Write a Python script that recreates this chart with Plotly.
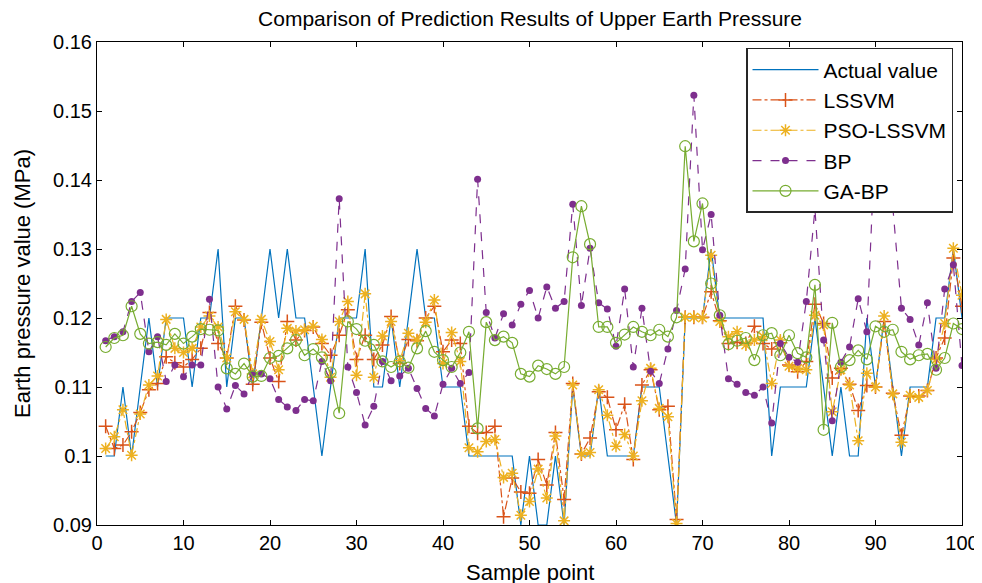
import plotly.graph_objects as go

samples = list(range(1, 101))

actual = [0.10, 0.10, 0.11, 0.10, 0.11, 0.12, 0.11, 0.12, 0.12, 0.12,
          0.11, 0.12, 0.12, 0.13, 0.11, 0.12, 0.12, 0.11, 0.12, 0.13,
          0.12, 0.13, 0.12, 0.12, 0.11, 0.10, 0.11, 0.12, 0.12, 0.12,
          0.13, 0.11, 0.11, 0.12, 0.11, 0.12, 0.13, 0.12, 0.12, 0.11,
          0.11, 0.11, 0.10, 0.10, 0.10, 0.10, 0.10, 0.10, 0.09, 0.10,
          0.09, 0.09, 0.10, 0.09, 0.11, 0.10, 0.10, 0.11, 0.10, 0.10,
          0.10, 0.10, 0.11, 0.11, 0.11, 0.10, 0.09, 0.12, 0.12, 0.12,
          0.13, 0.12, 0.12, 0.12, 0.12, 0.12, 0.12, 0.10, 0.11, 0.11,
          0.11, 0.11, 0.12, 0.11, 0.10, 0.11, 0.10, 0.10, 0.12, 0.11,
          0.12, 0.11, 0.10, 0.11, 0.11, 0.11, 0.12, 0.12, 0.13, 0.12]

lssvm = [0.1043, 0.1011, 0.1016, 0.1035, 0.1063, 0.1096, 0.1105, 0.1144, 0.1135, 0.1129,
         0.1140, 0.1156, 0.1208, 0.1163, 0.1142, 0.1217, 0.1197, 0.1104, 0.1194, 0.1142,
         0.1108, 0.1195, 0.1168, 0.1182, 0.1187, 0.1163, 0.1146, 0.1175, 0.1212, 0.1140,
         0.1175, 0.1140, 0.1161, 0.1202, 0.1134, 0.1169, 0.1167, 0.1200, 0.1217, 0.1151,
         0.1168, 0.1163, 0.1043, 0.1033, 0.1034, 0.1043, 0.0912, 0.0968, 0.0948, 0.0946,
         0.0995, 0.0958, 0.1034, 0.0937, 0.1105, 0.1003, 0.1026, 0.1093, 0.1085, 0.1038,
         0.1075, 0.0995, 0.1103, 0.1125, 0.1067, 0.1072, 0.0908, 0.1201, 0.1201, 0.1201,
         0.1238, 0.1196, 0.1163, 0.1165, 0.1163, 0.1188, 0.1163, 0.1155, 0.1164, 0.1132,
         0.1122, 0.1137, 0.1220, 0.1192, 0.1113, 0.1127, 0.1104, 0.1066, 0.1102, 0.1100,
         0.1195, 0.1091, 0.1030, 0.1087, 0.1087, 0.1095, 0.1142, 0.1171, 0.1287, 0.1217]

pso_lssvm = [0.1011, 0.1028, 0.1067, 0.1001, 0.1061, 0.1103, 0.1116, 0.1198, 0.1156, 0.1150,
             0.1156, 0.1187, 0.1203, 0.1187, 0.1142, 0.1209, 0.1198, 0.1119, 0.1198, 0.1166,
             0.1125, 0.1185, 0.1181, 0.1183, 0.1188, 0.1169, 0.1114, 0.1195, 0.1224, 0.1117,
             0.1235, 0.1114, 0.1174, 0.1195, 0.1138, 0.1178, 0.1168, 0.1194, 0.1226, 0.1134,
             0.1179, 0.1137, 0.1012, 0.1006, 0.1021, 0.1024, 0.0969, 0.0975, 0.0914, 0.0934,
             0.0981, 0.0939, 0.1029, 0.0906, 0.1103, 0.1003, 0.1005, 0.1096, 0.1059, 0.1014,
             0.1031, 0.1000, 0.1080, 0.1127, 0.1069, 0.1057, 0.0902, 0.1201, 0.1201, 0.1200,
             0.1291, 0.1195, 0.1173, 0.1180, 0.1161, 0.1168, 0.1173, 0.1105, 0.1168, 0.1130,
             0.1127, 0.1125, 0.1204, 0.1190, 0.1064, 0.1125, 0.1103, 0.1022, 0.1120, 0.1100,
             0.1203, 0.1090, 0.1020, 0.1088, 0.1085, 0.1095, 0.1140, 0.1192, 0.1301, 0.1233]

bp = [0.1167, 0.1173, 0.1180, 0.1224, 0.1237, 0.1151, 0.1173, 0.1108, 0.1132, 0.1115,
      0.1132, 0.1132, 0.1227, 0.1100, 0.1068, 0.1102, 0.1090, 0.1119, 0.1119, 0.1112,
      0.1082, 0.1071, 0.1066, 0.1082, 0.1080, 0.1137, 0.1109, 0.1373, 0.1129, 0.1092,
      0.1045, 0.1072, 0.1137, 0.1109, 0.1116, 0.1127, 0.1098, 0.1069, 0.1058, 0.1104,
      0.1127, 0.1105, 0.1121, 0.1401, 0.1208, 0.1171, 0.1206, 0.1190, 0.1220, 0.1240,
      0.1200, 0.1245, 0.1214, 0.1224, 0.1365, 0.1218, 0.1301, 0.1222, 0.1213, 0.1159,
      0.1242, 0.1129, 0.1214, 0.1123, 0.1105, 0.1155, 0.1211, 0.1271, 0.1523, 0.1299,
      0.1350, 0.1204, 0.1112, 0.1104, 0.1092, 0.1088, 0.1100, 0.1048, 0.1163, 0.1143,
      0.1136, 0.1224, 0.1358, 0.1168, 0.1051, 0.1136, 0.1158, 0.1228, 0.1180, 0.1470,
      0.1450, 0.1361, 0.1214, 0.1198, 0.1161, 0.1222, 0.1127, 0.1242, 0.1277, 0.1131]

ga_bp = [0.1158, 0.1171, 0.1175, 0.1217, 0.1177, 0.1163, 0.1165, 0.1161, 0.1177, 0.1163,
         0.1173, 0.1184, 0.1183, 0.1182, 0.1127, 0.1119, 0.1134, 0.1115, 0.1116, 0.1142,
         0.1145, 0.1156, 0.1168, 0.1146, 0.1155, 0.1143, 0.1121, 0.1062, 0.1195, 0.1184,
         0.1167, 0.1161, 0.1137, 0.1129, 0.1137, 0.1128, 0.1156, 0.1181, 0.1151, 0.1139,
         0.1129, 0.1150, 0.1180, 0.1040, 0.1194, 0.1168, 0.1173, 0.1164, 0.1119, 0.1115,
         0.1131, 0.1126, 0.1119, 0.1129, 0.1288, 0.1362, 0.1307, 0.1187, 0.1187, 0.1164,
         0.1176, 0.1187, 0.1180, 0.1175, 0.1183, 0.1173, 0.1201, 0.1449, 0.1311, 0.1366,
         0.1250, 0.1204, 0.1162, 0.1167, 0.1171, 0.1139, 0.1175, 0.1178, 0.1146, 0.1175,
         0.1149, 0.1143, 0.1248, 0.1038, 0.1193, 0.1129, 0.1139, 0.1153, 0.1140, 0.1188,
         0.1180, 0.1183, 0.1151, 0.1140, 0.1146, 0.1148, 0.1125, 0.1142, 0.1192, 0.1184]

x_ticks = [0, 10, 20, 30, 40, 50, 60, 70, 80, 90, 100]
y_ticks = [0.09, 0.10, 0.11, 0.12, 0.13, 0.14, 0.15, 0.16]
y_tick_labels = ["0.09", "0.1", "0.11", "0.12", "0.13", "0.14", "0.15", "0.16"]

FONT = "Liberation Sans, Arial, sans-serif"

fig = go.Figure()
fig.add_trace(go.Scatter(x=samples, y=actual, name="Actual value", mode="lines",
                         line=dict(color="#0072BD", width=1.2)))
fig.add_trace(go.Scatter(x=samples, y=lssvm, name="LSSVM", mode="lines+markers",
                         line=dict(color="#D95319", width=1.2, dash="dashdot"),
                         marker=dict(symbol="cross-thin-open", size=10,
                                     line=dict(color="#D95319", width=1.5))))
fig.add_trace(go.Scatter(x=samples, y=pso_lssvm, name="PSO-LSSVM", mode="lines+markers",
                         line=dict(color="#EDB120", width=1.2, dash="dashdot"),
                         marker=dict(symbol="asterisk-open", size=10,
                                     line=dict(color="#EDB120", width=1.5))))
fig.add_trace(go.Scatter(x=samples, y=bp, name="BP", mode="lines+markers",
                         line=dict(color="#7E2F8E", width=1.2, dash="dash"),
                         marker=dict(symbol="circle", size=7, color="#7E2F8E")))
fig.add_trace(go.Scatter(x=samples, y=ga_bp, name="GA-BP", mode="lines+markers",
                         line=dict(color="#77AC30", width=1.2),
                         marker=dict(symbol="circle-open", size=11,
                                     line=dict(color="#77AC30", width=1.2))))

axis_common = dict(showline=True, linecolor="black", linewidth=1, mirror="ticks",
                   ticks="inside", ticklen=5, tickcolor="black", showgrid=False,
                   zeroline=False, tickfont=dict(family=FONT, size=20, color="black"))

# The page body adds an 8 px offset, so the figure is sized 8 px smaller.
fig.update_layout(
    width=974, height=575,
    margin=dict(l=89, r=20, t=34, b=58, autoexpand=False),
    paper_bgcolor="white", plot_bgcolor="white",
    title=dict(text="Comparison of Prediction Results of Upper Earth Pressure",
               x=0.536, xanchor="center", y=0.981, yanchor="middle",
               font=dict(family=FONT, size=21, color="black")),
    xaxis=dict(range=[0, 100], tickvals=x_ticks, **axis_common),
    yaxis=dict(range=[0.09, 0.16], tickvals=y_ticks, ticktext=y_tick_labels,
               title=dict(text="Earth pressure value (MPa)", standoff=16,
                          font=dict(family=FONT, size=22, color="black")),
               **axis_common),
    legend=dict(x=0.9896, y=0.9876, xanchor="right", yanchor="top",
                bgcolor="white", bordercolor="#262626", borderwidth=1.5,
                font=dict(family=FONT, size=21, color="black"),
                itemwidth=66, tracegroupgap=0),
    annotations=[dict(text="Sample point", xref="paper", yref="paper",
                      x=0.5, y=-0.099, xanchor="center", yanchor="middle",
                      showarrow=False,
                      font=dict(family=FONT, size=22, color="black"))],
    showlegend=True,
)

fig.write_html("out.html")
